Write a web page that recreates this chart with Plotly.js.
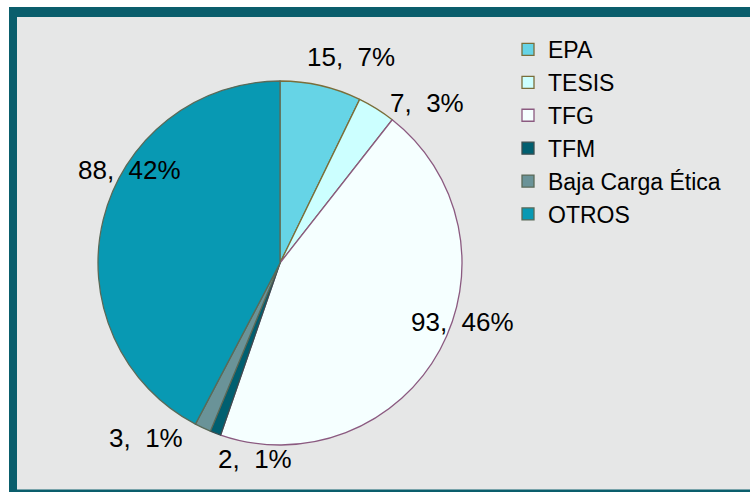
<!DOCTYPE html>
<html>
<head>
<meta charset="utf-8">
<script src="https://cdn.plot.ly/plotly-3.0.1.min.js"></script>
<style>html,body{margin:0;padding:0;background:#fff;}#chart{width:750px;height:492px;}</style>
</head>
<body>
<div id="chart"></div>
<script>
// Data
const categories = ["EPA", "TESIS", "TFG", "TFM", "Baja Carga Ética", "OTROS"];
const values = [15, 7, 93, 2, 3, 88];
const pctLabels = ["7%", "3%", "46%", "1%", "1%", "42%"];

// Styles
const sliceColors = ["#66D4E6", "#CCFFFF", "#F5FFFF", "#005F70", "#6A9398", "#0899B3"];
const sliceLines = ["#7A6E3A", "#7A6E3A", "#8B5A80", "#3A4E50", "#5A6A58", "#5A6A58"];
// label anchor positions (pixels) for each data label
const labelPos = [[351, 57], [427, 103], [463, 322], [255, 459], [146, 438], [129, 170]];

const W = 750, H = 492;
const px = x => x / W;
const py = y => 1 - y / H;

const trace = {
  type: "pie",
  labels: categories,
  values: values,
  sort: false,
  direction: "clockwise",
  rotation: 0,
  textinfo: "none",
  hoverinfo: "label+value+percent",
  marker: { colors: sliceColors, line: { color: sliceLines, width: 1.3 } },
  domain: { x: [px(98), px(462)], y: [py(445), py(81)] }
};

const annotations = categories.map((c, i) => ({
  xref: "paper", yref: "paper",
  x: px(labelPos[i][0]), y: py(labelPos[i][1]),
  xanchor: "center", yanchor: "middle",
  text: values[i] + ",\u00a0\u00a0" + pctLabels[i],
  showarrow: false,
  font: { family: "Liberation Sans, Arial, sans-serif", size: 26, color: "#000" }
}));

const layout = {
  width: W, height: H,
  margin: { l: 0, r: 0, t: 0, b: 0 },
  paper_bgcolor: "#ffffff",
  showlegend: true,
  legend: {
    x: px(508), y: py(28), xanchor: "left", yanchor: "top",
    bgcolor: "rgba(0,0,0,0)",
    font: { family: "Liberation Sans, Arial, sans-serif", size: 23, color: "#000" },
    tracegroupgap: 0
  },
  shapes: [
    { type: "rect", xref: "paper", yref: "paper", layer: "below",
      x0: px(9), x1: 1.02, y0: -0.02, y1: py(7), fillcolor: "#0A5E6C", line: { width: 0 } },
    { type: "rect", xref: "paper", yref: "paper", layer: "below",
      x0: px(17), x1: 1.02, y0: py(489.5), y1: py(17), fillcolor: "#E6E7E7", line: { width: 0 } }
  ],
  annotations: annotations
};

Plotly.newPlot("chart", [trace], layout, { displayModeBar: false, staticPlot: true });
</script>
</body>
</html>
